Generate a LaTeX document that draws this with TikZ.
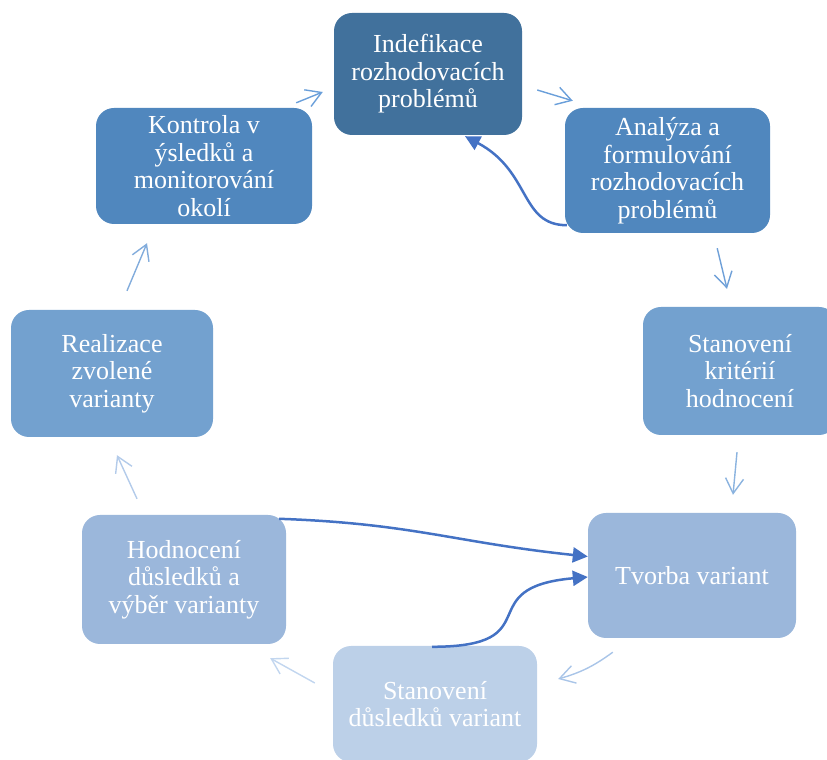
\documentclass[tikz,border=0pt]{standalone}
\usepackage{fontspec}
\setmainfont{Liberation Serif}
\usepackage{tikz}
\usetikzlibrary{arrows.meta,calc}

\definecolor{boxA}{HTML}{41719C}
\definecolor{boxB}{HTML}{5087BE}
\definecolor{boxC}{HTML}{73A1CF}
\definecolor{boxD}{HTML}{9BB7DB}
\definecolor{boxE}{HTML}{BCD0E8}
\definecolor{cycA}{HTML}{6A9FDA}
\definecolor{cycB}{HTML}{6FA0D8}
\definecolor{cycC}{HTML}{8BB3DF}
\definecolor{cycD}{HTML}{A9C5E8}
\definecolor{cycE}{HTML}{C2D6EF}
\definecolor{cycF}{HTML}{B3CBEA}
\definecolor{cycG}{HTML}{82ACDC}
\definecolor{flow}{HTML}{4472C4}

\begin{document}
\begin{tikzpicture}[x=1pt,y=1pt,
phase/.style={
rectangle,
rounded corners=18pt,
draw=none,
text=white,
align=center,
inner sep=2pt,
font=\fontsize{26}{27.5}\selectfont
},
cyc/.style={-{Straight Barb[length=15pt,width=18pt]},line width=1.4pt},
back/.style={-{Triangle[length=15pt,width=15pt]},line width=2.5pt,draw=flow}
]
\useasboundingbox (0,0) rectangle (827,760);

\node[phase,fill=boxA,minimum width=188pt,minimum height=122pt] (ident) at (428,686) {Indefikace\\rozhodovacích\\problémů};
\node[phase,fill=boxB,minimum width=205pt,minimum height=125pt] (ana) at (667.5,589.5) {Analýza a\\formulování\\rozhodovacích\\problémů};
\node[phase,fill=boxC,minimum width=194pt,minimum height=128pt] (krit) at (740,389) {Stanovení\\kritérií\\hodnocení};
\node[phase,fill=boxD,minimum width=208pt,minimum height=125pt] (tvorba) at (692,184.5) {Tvorba variant};
\node[phase,fill=boxE,minimum width=204pt,minimum height=116pt] (dusl) at (435,56) {Stanovení\\důsledků variant};
\node[phase,fill=boxD,minimum width=204pt,minimum height=129pt] (hodn) at (184,180.5) {Hodnocení\\důsledků a\\výběr varianty};
\node[phase,fill=boxC,minimum width=202pt,minimum height=127pt] (real) at (112,386.5) {Realizace\\zvolené\\varianty};
\node[phase,fill=boxB,minimum width=216pt,minimum height=116pt] (kontr) at (204,594) {Kontrola v\\ýsledků a\\monitorování\\okolí};

\draw[cyc,cycA] ($(kontr.north east)+(-16,5)$) -- ($(ident.west)+(-11,-18)$);
\draw[cyc,cycA] ($(ident.east)+(15,-16)$) -- ($(ana.north west)+(8,7)$);
\draw[cyc,cycB] ($(ana.south east)+(-53,-15)$) -- ($(krit.north)+(-13,18)$);
\draw[cyc,cycC] ($(krit.south)+(-3,-17)$) -- ($(tvorba.north)+(41,18)$);
\draw[cyc,cycD] ($(tvorba.south west)+(25,-14)$) to[bend left=10] ($(dusl.east)+(21,25)$);
\draw[cyc,cycE] ($(dusl.west)+(-18,21)$) -- ($(hodn.south east)+(-16,-14)$);
\draw[cyc,cycF] ($(hodn.north)+(-47,16)$) -- ($(real.south)+(5,-18)$);
\draw[cyc,cycG] ($(real.north)+(15,19)$) -- ($(kontr.south)+(-57,-19)$);

\draw[back] ($(ana.south west)+(2,8)$) .. controls +(180:47) and +(-28:75) .. ($(ident.south)+(37,-1)$);
\draw[back] ($(hodn.north east)+(-7,-4)$) to[out=-2,in=174,looseness=1.1] ($(tvorba.west)+(0,19)$);
\draw[back] ($(dusl.north)+(-3,-1)$) to[out=0,in=185,looseness=1.8] ($(tvorba.west)+(0,-1.5)$);

\end{tikzpicture}
\end{document}
